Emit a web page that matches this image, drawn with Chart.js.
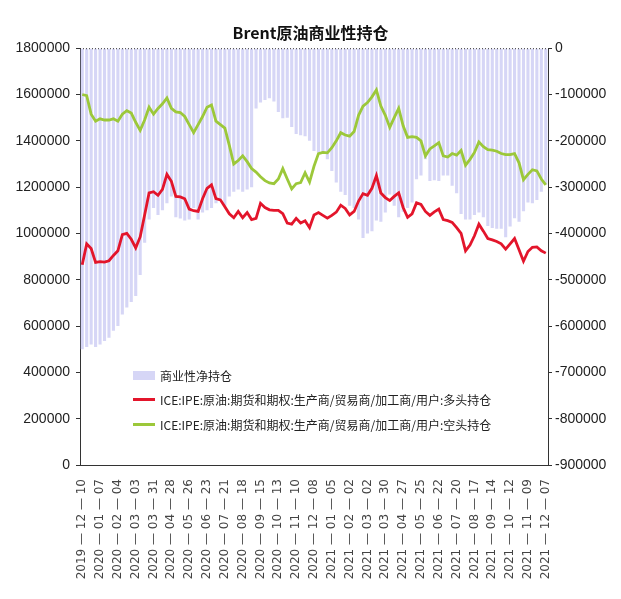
<!DOCTYPE html>
<html>
<head>
<meta charset="utf-8">
<script src="https://cdn.jsdelivr.net/npm/chart.js@4.4.1/dist/chart.umd.min.js"></script>
<style>
body { margin: 0; background: #fff; }
#wrap { position: relative; width: 621px; height: 599px; }
#legend { position: absolute; left: 133px; top: 363px; font: 12px "Noto Sans CJK SC", sans-serif; color: #222; }
.row { height: 24.5px; display: flex; align-items: center; white-space: nowrap; }
.mark { width: 22px; margin-right: 5px; }
</style>
</head>
<body>
<div id="wrap">
<canvas id="posCanvas"></canvas>
<div id="legend"></div>
</div>
<script>
// weekly report dates
let dates = [
    "2019-12-10", "2019-12-17", "2019-12-24", "2019-12-31",
    "2020-01-07", "2020-01-14", "2020-01-21", "2020-01-28", "2020-02-04", "2020-02-11", "2020-02-18", "2020-02-25",
    "2020-03-03", "2020-03-10", "2020-03-17", "2020-03-24", "2020-03-31", "2020-04-07", "2020-04-14", "2020-04-21",
    "2020-04-28", "2020-05-05", "2020-05-12", "2020-05-19", "2020-05-26", "2020-06-02", "2020-06-09", "2020-06-16",
    "2020-06-23", "2020-06-30", "2020-07-07", "2020-07-14", "2020-07-21", "2020-07-28", "2020-08-04", "2020-08-11",
    "2020-08-18", "2020-08-25", "2020-09-01", "2020-09-08", "2020-09-15", "2020-09-22", "2020-09-29", "2020-10-06",
    "2020-10-13", "2020-10-20", "2020-10-27", "2020-11-03", "2020-11-10", "2020-11-17", "2020-11-24", "2020-12-01",
    "2020-12-08", "2020-12-15", "2020-12-22", "2020-12-29",
    "2021-01-05", "2021-01-12", "2021-01-19", "2021-01-26", "2021-02-02", "2021-02-09", "2021-02-16", "2021-02-23",
    "2021-03-02", "2021-03-09", "2021-03-16", "2021-03-23", "2021-03-30", "2021-04-06", "2021-04-13", "2021-04-20",
    "2021-04-27", "2021-05-04", "2021-05-11", "2021-05-18", "2021-05-25", "2021-06-01", "2021-06-08", "2021-06-15",
    "2021-06-22", "2021-06-29", "2021-07-06", "2021-07-13", "2021-07-20", "2021-07-27", "2021-08-03", "2021-08-10",
    "2021-08-17", "2021-08-24", "2021-08-31", "2021-09-07", "2021-09-14", "2021-09-21", "2021-09-28", "2021-10-05",
    "2021-10-12", "2021-10-19", "2021-10-26", "2021-11-02", "2021-11-09", "2021-11-16", "2021-11-23", "2021-11-30",
    "2021-12-07"
];

// 多头持仓 (left axis)
let longPos = [
    865000, 955000, 935000, 875000, 878000, 876000, 882000, 905000, 925000, 995000,
    1000000, 975000, 938000, 985000, 1080000, 1175000, 1180000, 1165000, 1190000, 1255000,
    1225000, 1160000, 1158000, 1150000, 1105000, 1098000, 1095000, 1150000, 1195000, 1210000,
    1150000, 1145000, 1115000, 1085000, 1068000, 1095000, 1068000, 1090000, 1060000, 1065000,
    1130000, 1112000, 1102000, 1100000, 1100000, 1085000, 1045000, 1040000, 1065000, 1045000,
    1055000, 1025000, 1080000, 1090000, 1078000, 1066000, 1078000, 1092000, 1122000, 1108000,
    1080000, 1095000, 1140000, 1172000, 1165000, 1195000, 1250000, 1175000, 1155000, 1142000,
    1160000, 1175000, 1112000, 1070000, 1085000, 1132000, 1125000, 1095000, 1078000, 1093000,
    1105000, 1060000, 1055000, 1048000, 1025000, 1000000, 925000, 950000, 990000, 1040000,
    1010000, 978000, 972000, 965000, 955000, 932000, 955000, 978000, 930000, 880000,
    922000, 940000, 942000, 925000, 915000
];

// 空头持仓 (left axis)
let shortPos = [
    1600000, 1595000, 1515000, 1485000, 1495000, 1490000, 1490000, 1495000, 1485000, 1515000,
    1530000, 1520000, 1480000, 1445000, 1490000, 1545000, 1515000, 1540000, 1560000, 1585000,
    1540000, 1525000, 1522000, 1505000, 1470000, 1435000, 1470000, 1505000, 1545000, 1555000,
    1485000, 1470000, 1455000, 1380000, 1300000, 1315000, 1335000, 1310000, 1280000, 1265000,
    1245000, 1228000, 1218000, 1215000, 1235000, 1280000, 1235000, 1192000, 1215000, 1220000,
    1262000, 1222000, 1290000, 1345000, 1350000, 1348000, 1370000, 1400000, 1435000, 1425000,
    1420000, 1440000, 1510000, 1550000, 1565000, 1590000, 1620000, 1550000, 1510000, 1458000,
    1500000, 1540000, 1465000, 1415000, 1418000, 1415000, 1400000, 1335000, 1365000, 1378000,
    1392000, 1335000, 1330000, 1345000, 1338000, 1358000, 1295000, 1320000, 1350000, 1395000,
    1375000, 1362000, 1360000, 1355000, 1345000, 1340000, 1340000, 1345000, 1305000, 1232000,
    1255000, 1275000, 1270000, 1235000, 1210000
];

// 商业性净持仓 (right axis)
let netPos = [
    -650000, -645000, -640000, -645000, -640000, -632000, -625000, -610000, -600000, -575000,
    -560000, -548000, -535000, -490000, -420000, -370000, -345000, -360000, -350000, -335000,
    -320000, -365000, -368000, -372000, -370000, -345000, -370000, -355000, -350000, -345000,
    -335000, -325000, -340000, -320000, -310000, -305000, -310000, -305000, -300000, -130000,
    -117000, -112000, -108000, -115000, -138000, -151000, -150000, -170000, -185000, -188000,
    -190000, -200000, -222000, -225000, -228000, -240000, -265000, -290000, -310000, -317000,
    -340000, -345000, -370000, -410000, -400000, -395000, -372000, -375000, -355000, -316000,
    -340000, -365000, -353000, -345000, -333000, -283000, -275000, -240000, -287000, -285000,
    -287000, -275000, -275000, -297000, -313000, -358000, -370000, -370000, -360000, -355000,
    -365000, -384000, -388000, -390000, -390000, -408000, -385000, -367000, -375000, -352000,
    -333000, -335000, -328000, -310000, -295000
];

let leftTicks = { min: 0, max: 1800000, step: 200000 };
let rightTicks = { min: -900000, max: 0, step: 100000 };

let tickFont = { family: '"Liberation Sans", Arial, sans-serif', size: 14 };

// dotted line along the top of the plot
const topBorder = {
    id: 'topBorder',
    afterDraw(chart) {
        let a = chart.chartArea;
        let ctx = chart.ctx;
        ctx.save();
        ctx.strokeStyle = '#333';
        ctx.lineWidth = 1;
        ctx.setLineDash([1, 2]);
        ctx.beginPath();
        ctx.moveTo(a.left, a.top + 0.5);
        ctx.lineTo(a.right, a.top + 0.5);
        ctx.stroke();
        ctx.restore();
    }
};

posCanvas = document.getElementById("posCanvas");

posChart = new Chart(posCanvas, {
    type: "bar",
    data: {
        labels: dates,
        datasets: [{
            type: "bar",
            label: "商业性净持仓",
            data: netPos,
            yAxisID: "y1",
            backgroundColor: "rgba(196,196,242,0.7)",
            barPercentage: 0.7,
            categoryPercentage: 1,
            order: 3
        }, {
            type: "line",
            label: "ICE:IPE:原油:期货和期权:生产商/贸易商/加工商/用户:多头持仓",
            data: longPos,
            yAxisID: "y",
            borderColor: "#e3152b",
            borderWidth: 2.8,
            pointRadius: 0,
            order: 1
        }, {
            type: "line",
            label: "ICE:IPE:原油:期货和期权:生产商/贸易商/加工商/用户:空头持仓",
            data: shortPos,
            yAxisID: "y",
            borderColor: "#9cc83a",
            borderWidth: 2.8,
            pointRadius: 0,
            order: 2
        }]
    },
    options: {
        responsive: true,
        maintainAspectRatio: false,
        animation: false,
        layout: { padding: 0 },
        scales: {
            x: {
                offset: true,
                grid: { display: false },
                border: { color: '#333' },
                ticks: {
                    autoSkip: false,
                    maxRotation: 90,
                    minRotation: 90,
                    padding: 6,
                    color: '#444',
                    font: { family: '"DejaVu Sans", sans-serif', size: 12 },
                    callback: function(value, index) {
                        if (index % 4 != 0) return '';
                        return dates[index].replace(/-/g, ' — ');
                    }
                },
                afterFit: function(scale) { scale.height = 134; }
            },
            y: {
                position: 'left',
                min: leftTicks.min,
                max: leftTicks.max,
                grid: { drawOnChartArea: false, tickLength: 4, color: '#333' },
                border: { color: '#333' },
                ticks: {
                    stepSize: leftTicks.step,
                    padding: 6,
                    color: '#222',
                    font: tickFont,
                    callback: function(value) { return String(value); }
                },
                afterFit: function(scale) { scale.width = 80; }
            },
            y1: {
                position: 'right',
                min: rightTicks.min,
                max: rightTicks.max,
                grid: { drawOnChartArea: false, tickLength: 4, color: '#333' },
                border: { color: '#333' },
                ticks: {
                    stepSize: rightTicks.step,
                    padding: 3,
                    color: '#222',
                    font: tickFont,
                    callback: function(value) { return String(value); }
                },
                afterFit: function(scale) { scale.width = 73; }
            }
        },
        plugins: {
            legend: { display: false }, // legend is drawn in html below
            tooltip: { enabled: false },
            title: {
                display: true,
                text: "Brent原油商业性持仓",
                color: '#111',
                font: { family: '"Noto Sans CJK SC", sans-serif', size: 16, weight: 'bold' },
                padding: { top: 23, bottom: 6 }
            }
        }
    },
    plugins: [topBorder]
});

// legend inside the plot, lower left
let legendBox = document.getElementById('legend');
posChart.data.datasets.forEach(function(ds) {
    let row = document.createElement('div');
    row.className = 'row';
    let mark = document.createElement('span');
    mark.className = 'mark';
    if (ds.type == 'bar') {
        mark.style.height = '9px';
        mark.style.background = ds.backgroundColor;
    } else {
        mark.style.height = '3px';
        mark.style.background = ds.borderColor;
    }
    let txt = document.createElement('span');
    txt.textContent = ds.label;
    row.appendChild(mark);
    row.appendChild(txt);
    legendBox.appendChild(row);
});
</script>
</body>
</html>
